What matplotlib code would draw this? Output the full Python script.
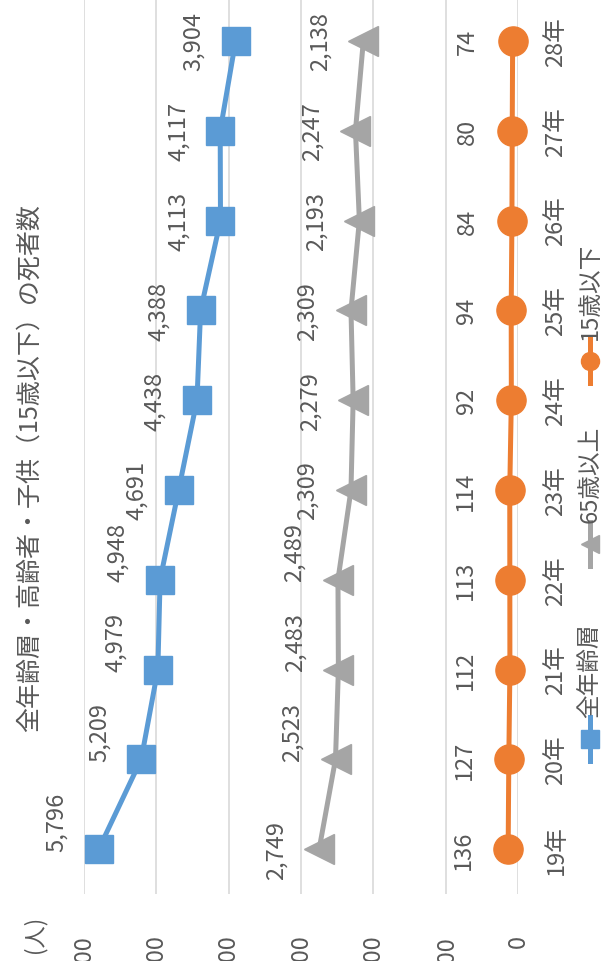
import matplotlib
matplotlib.use("Agg")
import matplotlib.pyplot as plt

plt.rcParams['font.family'] = ['Noto Sans CJK JP', 'DejaVu Sans']

years = ["19年", "20年", "21年", "22年", "23年", "24年", "25年", "26年", "27年", "28年"]
all_ages = [5796, 5209, 4979, 4948, 4691, 4438, 4388, 4113, 4117, 3904]
elderly = [2749, 2523, 2483, 2489, 2309, 2279, 2309, 2193, 2247, 2138]
children = [136, 127, 112, 113, 114, 92, 94, 84, 80, 74]
value_ticks = [0, 1000, 2000, 3000, 4000, 5000, 6000]

title = "全年齢層・高齢者・子供（15歳以下）の死者数"
names = ["全年齢層", "65歳以上", "15歳以下"]

blue = "#5B9BD5"
gray = "#A5A5A5"
orange = "#ED7D31"
txt = "#595959"

W, H = 611, 962
fig = plt.figure(figsize=(W / 100, H / 100), dpi=100)

# chart is drawn turned a quarter turn: values run right->left, years bottom->top
ax = fig.add_axes([84 / W, 1 - 895 / H, (518 - 84) / W, 898 / H])
ax.set_xlim(6000, 0)
ax.set_ylim(-0.5, 9.5)
idx = list(range(len(years)))

ax.plot(all_ages, idx, color=blue, lw=3.6, marker='s', ms=20, clip_on=False, zorder=3)
ax.plot(elderly, idx, color=gray, lw=3.6, marker='<', ms=22, clip_on=False, zorder=3)
ax.plot(children, idx, color=orange, lw=3.6, marker='o', ms=21, clip_on=False, zorder=3)

# data labels (original "above" -> left side here)
shift_all = [20, 20, 20, 20, 0, 0, 0, 0, 0, 0]
shift_eld = [0, 20, 20, 20, 0, 0, 0, 0, 0, 0]
for i in idx:
    ax.annotate(f"{all_ages[i]:,}", (all_ages[i], i), xytext=(-22, shift_all[i]),
                textcoords='offset points', rotation=90, ha='right', va='center',
                fontsize=17, color=txt)
    ax.annotate(f"{elderly[i]:,}", (elderly[i], i), xytext=(-23, shift_eld[i]),
                textcoords='offset points', rotation=90, ha='right', va='center',
                fontsize=17, color=txt)
    ax.annotate(f"{children[i]:,}", (children[i], i), xytext=(-24, 0),
                textcoords='offset points', rotation=90, ha='right', va='center',
                fontsize=17, color=txt)

ax.set_xticks(value_ticks)
ax.set_xticklabels([f"{v:,}" for v in value_ticks])
ax.tick_params(axis='x', length=0, pad=29, labelrotation=90, labelsize=17, labelcolor=txt)
ax.set_yticks(idx)
ax.set_yticklabels(years)
ax.yaxis.tick_right()
ax.tick_params(axis='y', length=0, pad=19, labelrotation=90, labelsize=17, labelcolor=txt)
for lb in ax.get_yticklabels():
    lb.set_va('center')
ax.grid(axis='x', color="#D9D9D9", lw=1.2)
ax.set_axisbelow(True)
for s in ax.spines.values():
    s.set_visible(False)

fig.text(30 / W, 1 - 468 / H, title, rotation=90, ha='center', va='center',
         fontsize=18, color=txt)
fig.text(35 / W, 1 - 934 / H, "(人)", rotation=90, ha='center', va='center',
         fontsize=16, color=txt)

# legend drawn by hand in pixel space
lg = fig.add_axes([0, 0, 1, 1])
lg.set_xlim(0, W)
lg.set_ylim(H, 0)
lg.axis('off')
legend_y = [740, 545, 362]
colors = [blue, gray, orange]
marks = ['s', '<', 'o']
for name, yy, c, m in zip(names, legend_y, colors, marks):
    lg.plot([590, 590], [yy - 22, yy + 22], color=c, lw=3.6)
    lg.plot([590], [yy], color=c, marker=m, ms=13)
    lg.text(590, yy - 22, name, rotation=90, ha='center', va='bottom',
            fontsize=17, color=txt)

fig.savefig("out.png", dpi=100)
